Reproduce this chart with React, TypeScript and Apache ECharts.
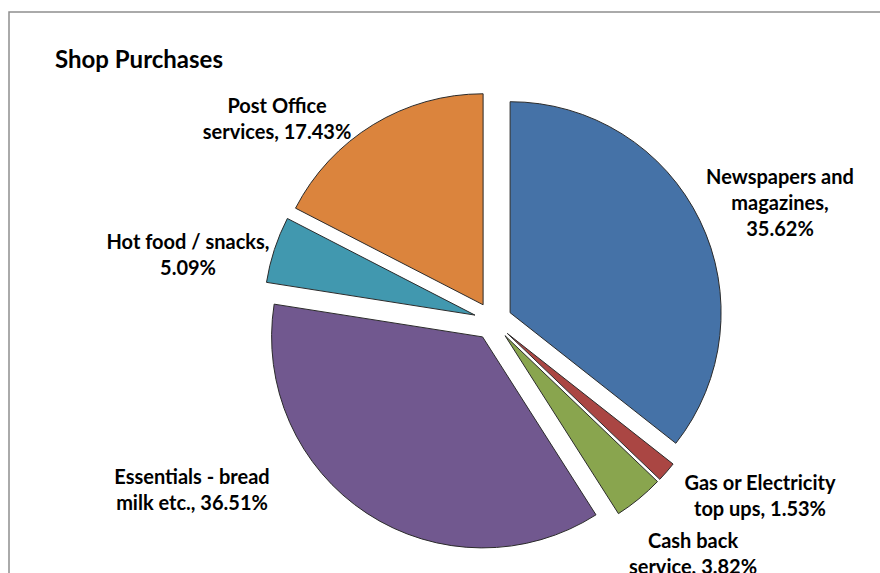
import React, { useEffect, useRef } from "react";
import * as echarts from "echarts";

const title = "Shop Purchases";
const categories = [
  "Newspapers and magazines",
  "Gas or Electricity top ups",
  "Cash back service",
  "Essentials - bread milk etc.",
  "Hot food / snacks",
  "Post Office services",
];
const values = [35.62, 1.53, 3.82, 36.51, 5.09, 17.43];
const labelTemplates = [
  "Newspapers and\nmagazines,\n{v}%",
  "Gas or Electricity\ntop ups, {v}%",
  "Cash back\nservice, {v}%",
  "Essentials - bread\nmilk etc., {v}%",
  "Hot food / snacks,\n{v}%",
  "Post Office\nservices, {v}%",
];
const colors = ["#4572A7", "#AA4643", "#89A54E", "#71588F", "#4198AF", "#DB843D"];
const labelPos: [number, number][] = [
  [780, 202],
  [760, 495],
  [693, 553],
  [192, 489],
  [188, 254],
  [277, 118],
];

const FONT = "Lato, 'Open Sans', sans-serif";

export default function App() {
  const ref = useRef<HTMLDivElement>(null);
  useEffect(() => {
    document.body.style.margin = "0";
    const chart = echarts.init(ref.current!, undefined, { renderer: "svg" });
    const labelTexts = categories.map((_, i) =>
      labelTemplates[i].replace("{v}", values[i].toFixed(2))
    );
    chart.setOption({
      animation: false,
      backgroundColor: "#ffffff",
      title: {
        text: title,
        left: 50,
        top: 41,
        textStyle: { fontFamily: FONT, fontWeight: "bold", fontSize: 24, color: "#000" },
      },
      graphic: [
        {
          type: "rect",
          shape: { x: 9, y: 12, width: 900, height: 600 },
          style: { fill: "none", stroke: "#8e8e8e", lineWidth: 1.5 },
          silent: true,
          z: -1,
        },
        ...labelTexts.map((t, i) => ({
          type: "text",
          x: labelPos[i][0],
          y: labelPos[i][1],
          silent: true,
          z: 10,
          style: {
            text: t,
            fill: "#000",
            font: `bold 20px ${FONT}`,
            lineHeight: 26,
            textAlign: "center",
            textVerticalAlign: "middle",
          },
        })),
      ],
      series: [
        {
          type: "pie",
          center: [493, 321],
          radius: 211,
          startAngle: 90,
          clockwise: true,
          selectedMode: "multiple",
          selectedOffset: 19,
          avoidLabelOverlap: false,
          itemStyle: { borderColor: "#2b2b2b", borderWidth: 1 },
          select: { itemStyle: { borderColor: "#2b2b2b", borderWidth: 1 } },
          emphasis: { disabled: true },
          labelLine: { show: false },
          label: { show: false },
          data: categories.map((c, i) => ({
            name: c,
            value: values[i],
            selected: true,
            itemStyle: { color: colors[i] },
          })),
        },
      ],
    });
    return () => chart.dispose();
  }, []);
  return <div ref={ref} style={{ width: 880, height: 573 }} />;
}
